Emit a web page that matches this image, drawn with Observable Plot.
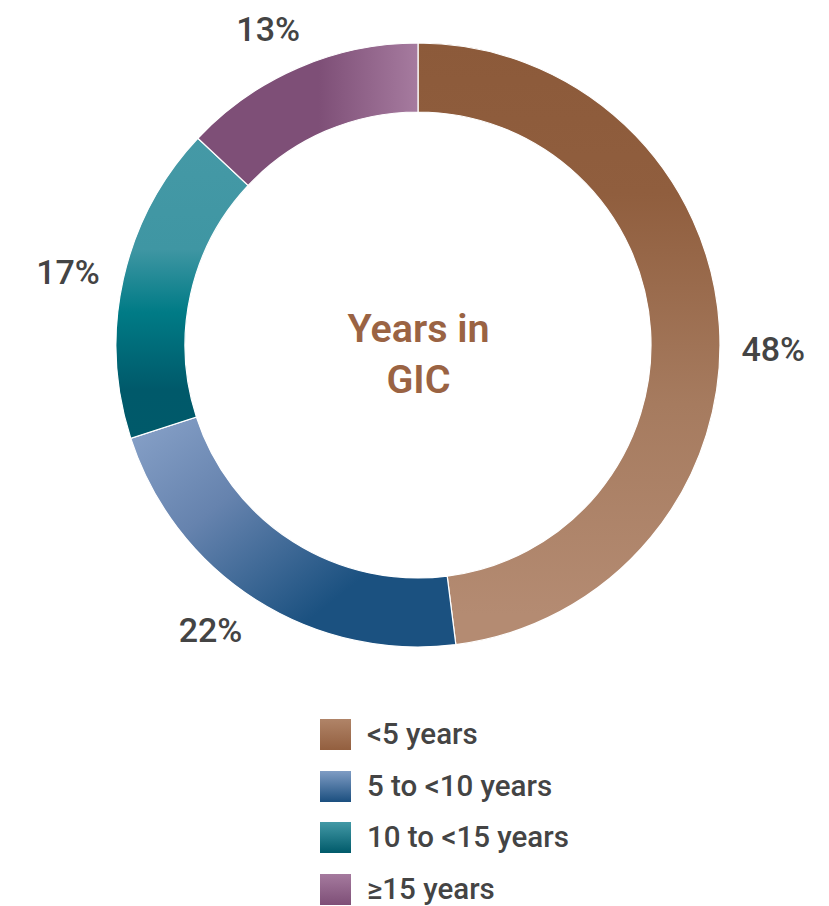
<!DOCTYPE html>
<html>
<head>
<meta charset="utf-8">
<script src="https://cdn.jsdelivr.net/npm/d3@7"></script>
<script src="https://cdn.jsdelivr.net/npm/@observablehq/plot@0.6"></script>
<style>
  html, body { margin: 0; padding: 0; background: #fff; }
  body { width: 829px; height: 906px; position: relative; font-family: Roboto, "Noto Sans", sans-serif; }
  #chart svg { display: block; }
  #legend { position: absolute; left: 320px; top: 719px; }
  .row { display: flex; align-items: center; height: 31px; margin-bottom: 20.5px; }
  .sw { width: 31px; height: 31px; margin-right: 16px; flex: none; }
  .lab { font-size: 29.5px; font-weight: 500; color: #444; line-height: 31px; white-space: nowrap; }
</style>
</head>
<body>
<div id="chart"></div>
<div id="legend"></div>
<script>
// ---- data ----
const categories = ["<5 years", "5 to <10 years", "10 to <15 years", "≥15 years"];
const values = [48, 22, 17, 13];
const percentLabels = ["48%", "22%", "17%", "13%"];
const centerLines = ["Years in", "GIC"];

// ---- styles ----
const ringGradients = [
  {x1: 0, y1: 0, x2: 0, y2: 1, stops: [[0, "#8C5A3A"], [0.25, "#905E3E"], [0.6, "#A67B5F"], [0.95, "#B48B72"], [1, "#B48B72"]]},
  {x1: 0, y1: 0.05, x2: 0.9, y2: 0.85, stops: [[0, "#86A0C7"], [0.35, "#6683AE"], [0.8, "#1B5180"], [1, "#1B5180"]]},
  {x1: 0, y1: 0, x2: 0, y2: 1, stops: [[0, "#4599A6"], [0.37, "#3F96A3"], [0.58, "#007B86"], [0.84, "#00596A"], [1, "#005A6A"]]},
  {x1: 0, y1: 0, x2: 1, y2: 0, stops: [[0, "#7E4F77"], [0.55, "#7E4F77"], [1, "#A67B9F"]]}
];
const swatchGradients = [
  ["#B08468", "#935F3F"],
  ["#7F9CC4", "#1B4F7F"],
  ["#4399A6", "#005A6A"],
  ["#A57A9E", "#7E4F77"]
];
const INNER = 0.7715;
// label placement tweaks (angle shift in degrees, radius as fraction of outer radius)
const labelAngleShift = [4.4, 3.7, -0.9, -2.1];
const labelRadius = [1.175, 1.169, 1.185, 1.156];

// ---- build slices ----
const total = d3.sum(values);
let acc = 0;
const slices = categories.map((c, i) => {
  const start = acc / total * 2 * Math.PI;
  acc += values[i];
  const end = acc / total * 2 * Math.PI;
  const mid = (start + end) / 2 + labelAngleShift[i] * Math.PI / 180;
  return {category: c, value: values[i], label: percentLabels[i], start, end, mid, r: labelRadius[i], i};
});

function donut(index, scales) {
  const cx = scales.x(0), cy = scales.y(0);
  const R = scales.x(1) - cx;
  const arc = d3.arc().innerRadius(R * INNER).outerRadius(R);
  const g = d3.create("svg:g");
  const defs = g.append("defs");
  ringGradients.forEach((gr, i) => {
    const lg = defs.append("linearGradient").attr("id", "ring" + i)
      .attr("x1", gr.x1).attr("y1", gr.y1).attr("x2", gr.x2).attr("y2", gr.y2);
    gr.stops.forEach(([o, c]) => lg.append("stop").attr("offset", o).attr("stop-color", c));
  });
  g.attr("transform", `translate(${cx},${cy})`);
  g.selectAll("path").data(slices).join("path")
    .attr("d", d => arc({startAngle: d.start, endAngle: d.end}))
    .attr("fill", d => `url(#ring${d.i})`)
    .attr("stroke", "#fff")
    .attr("stroke-width", 1.2);
  return g.node();
}

const chart = Plot.plot({
  width: 829,
  height: 700,
  margin: 0,
  style: {fontFamily: "Roboto, sans-serif", background: "#fff"},
  x: {domain: [-1, 1], range: [116, 720], axis: null},
  y: {domain: [-1, 1], range: [647, 43], axis: null},
  marks: [
    donut,
    Plot.text(slices, {
      x: d => d.r * Math.sin(d.mid),
      y: d => d.r * Math.cos(d.mid),
      text: "label",
      fontSize: 34,
      fontWeight: 500,
      fill: "#444",
      textAnchor: "middle",
      lineAnchor: "middle"
    }),
    Plot.text([centerLines[0]], {x: () => 0, y: () => 0, text: d => d, dy: -16, fontSize: 39.5, fontWeight: 600, fill: "#9A6343", lineAnchor: "middle"}),
    Plot.text([centerLines[1]], {x: () => 0, y: () => 0, text: d => d, dy: 35, fontSize: 39.5, fontWeight: 600, fill: "#9A6343", lineAnchor: "middle"})
  ]
});
document.getElementById("chart").appendChild(chart);

// ---- legend ----
const legend = d3.select("#legend");
categories.forEach((c, i) => {
  const row = legend.append("div").attr("class", "row");
  row.append("div").attr("class", "sw")
    .style("background", `linear-gradient(to bottom, ${swatchGradients[i][0]}, ${swatchGradients[i][1]})`);
  row.append("div").attr("class", "lab").text(c);
});
</script>
</body>
</html>
